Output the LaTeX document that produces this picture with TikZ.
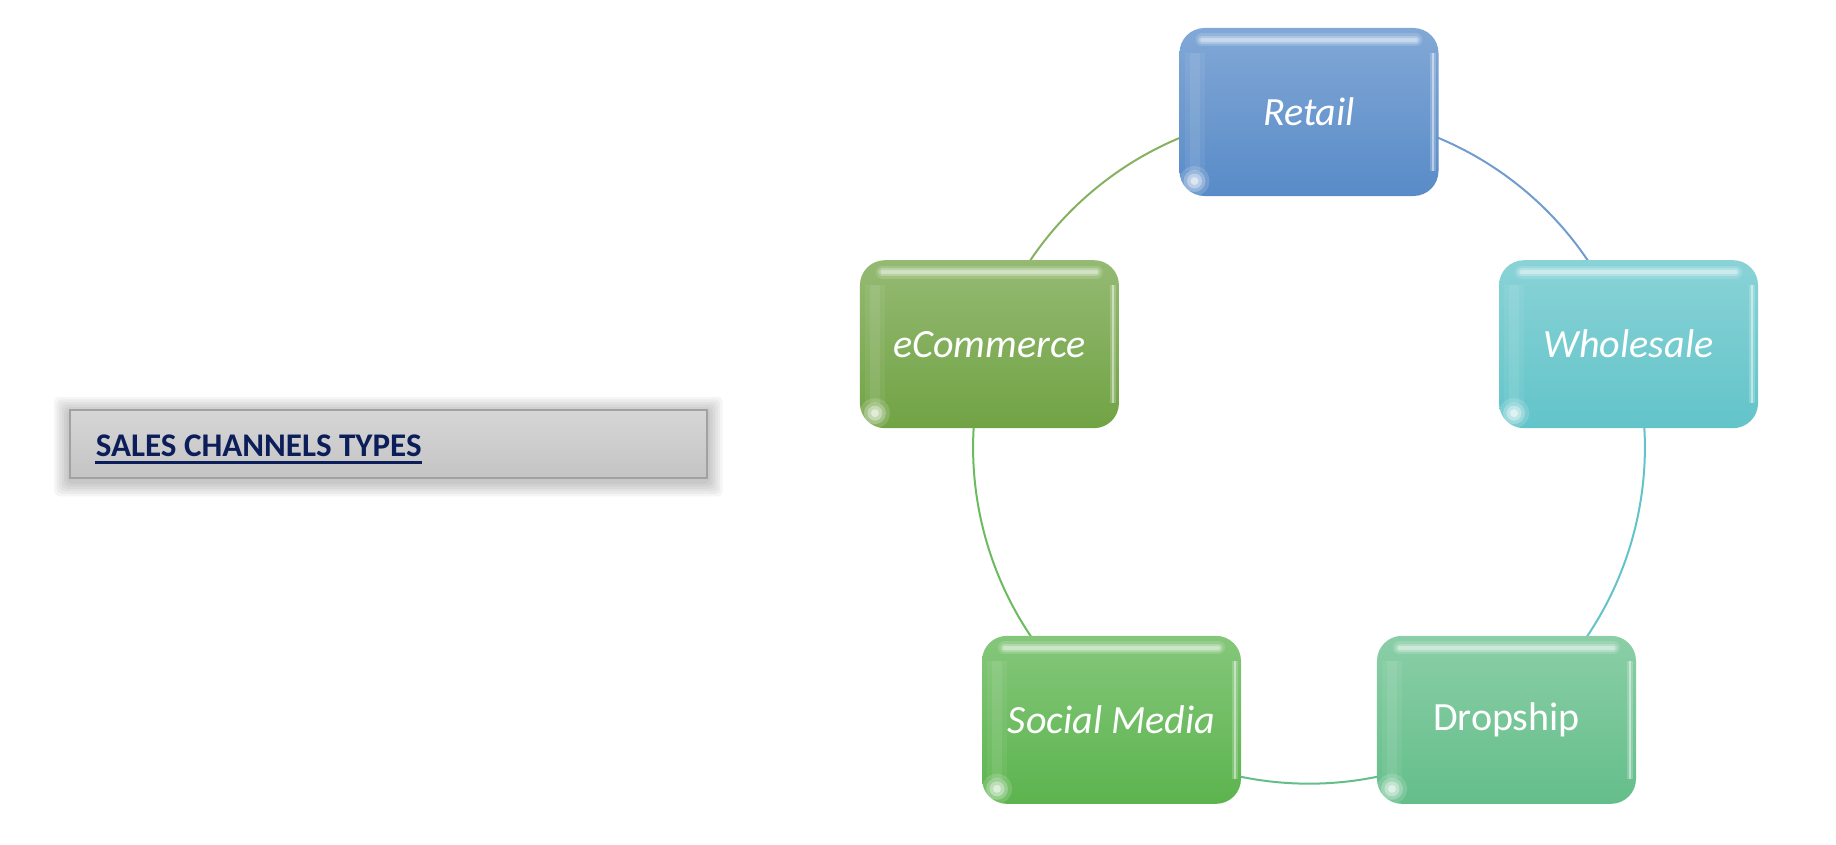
\documentclass[tikz,border=0pt]{standalone}
\usepackage{fontspec}
\setmainfont{Carlito}
\usepackage{xcolor}
\usetikzlibrary{backgrounds}

\definecolor{retailc}{RGB}{88,139,200}
\definecolor{wholec}{RGB}{98,196,201}
\definecolor{dropc}{RGB}{100,190,138}
\definecolor{socialc}{RGB}{92,180,78}
\definecolor{ecomc}{RGB}{113,163,68}
\definecolor{navy}{RGB}{12,30,90}
\definecolor{boxgray}{RGB}{196,196,196}

\begin{document}
\begin{tikzpicture}[thick,
    chan/.style = {rounded corners=0.5cm, minimum width=5.18cm, minimum height=3.36cm,
        top color=#1!75!white, bottom color=#1, text=white,
        font=\fontsize{22.8}{27}\selectfont\itshape,
        path picture={
            % glossy top bar, soft edges
            \foreach \w/\o in {0.26/0.15, 0.16/0.25, 0.07/0.35}
                \draw[white, opacity=\o, line width=\w cm, line cap=round]
                    ([shift={(0.45,-0.24)}]path picture bounding box.north west) --
                    ([shift={(-0.45,-0.24)}]path picture bounding box.north east);
            % light right rim and left band
            \foreach \w/\o in {0.12/0.2, 0.04/0.45}
                \draw[white, opacity=\o, line width=\w cm]
                    ([shift={(-0.12,-0.5)}]path picture bounding box.north east) --
                    ([shift={(-0.12,0.5)}]path picture bounding box.south east);
            \foreach \w/\o in {0.4/0.06, 0.2/0.08}
                \draw[white, opacity=\o, line width=\w cm]
                    ([shift={(0.3,-0.5)}]path picture bounding box.north west) --
                    ([shift={(0.3,0.5)}]path picture bounding box.south west);
            % little glow
            \foreach \r/\o in {0.3/0.15, 0.22/0.25, 0.15/0.35, 0.08/0.5}
                \fill[white, opacity=\o] ([shift={(0.3,0.3)}]path picture bounding box.south west) circle (\r);
        }},
    link/.style = {line width=0.04cm, bend left=36, looseness=0.94},
    title/.style = {draw=black!37, line width=0.03cm, top color=black!16, bottom color=boxgray,
        minimum width=12.74cm, minimum height=1.36cm}]

    \useasboundingbox (-26.18,-7.92) rectangle (10.54,8.96);

    % the five channels
    \node[chan=retailc] (retail) at (90:6.72) {Retail};
    \node[chan=wholec] (whole) at (18:6.72) {Wholesale};
    \node[chan=dropc, font=\fontsize{22.8}{27}\selectfont] (drop) at (-54:6.72) {Dropship};
    \node[chan=socialc] (social) at (-126:6.72) {Social Media};
    \node[chan=ecomc] (ecom) at (162:6.72) {eCommerce};

    % title box
    \node[title] (box) at (-18.41,0.08) {};
    \node[anchor=base west, inner sep=0, text=navy, font=\fontsize{18.8}{22}\selectfont\bfseries]
        (head) at ([xshift=0.52cm, yshift=-0.25cm]box.west) {SALES CHANNELS TYPES};
    \draw[navy, line width=0.06cm] ([yshift=-0.12cm]head.base west) -- ([yshift=-0.12cm]head.base east);

    \begin{scope}[on background layer]
        \draw[link, retailc!85!white] (retail.center) to (whole.center);
        \draw[link, wholec] (whole.center) to (drop.center);
        \draw[link, dropc] (drop.center) to (social.center);
        \draw[link, socialc!90!white] (social.center) to (ecom.center);
        \draw[link, ecomc!85!white] (ecom.center) to (retail.center);
        % soft shadow round the title
        \foreach \s in {1,...,6}
            \fill[black, opacity=0.04, rounded corners=0.1cm]
                ([shift={(-0.05*\s,-0.05*\s-0.05)}]box.south west) rectangle
                ([shift={(0.05*\s,0.05*\s-0.05)}]box.north east);
    \end{scope}
\end{tikzpicture}
\end{document}
